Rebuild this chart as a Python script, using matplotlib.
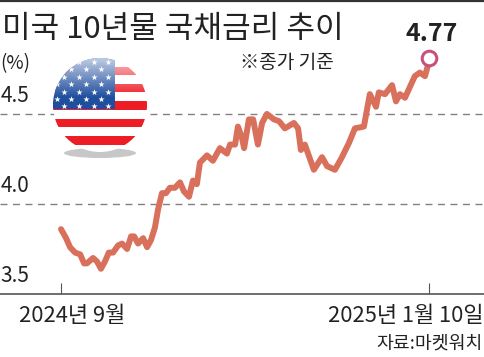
import numpy as np
import matplotlib
matplotlib.use("Agg")
import matplotlib.pyplot as plt
from matplotlib.patches import Ellipse, Rectangle, Circle

plt.rcParams['font.family'] = ['Noto Sans CJK KR', 'DejaVu Sans']

days = [0, 1.8, 3.2, 5, 6.8, 8.2, 9.2, 11.4, 12.8, 14.2, 15.6, 17, 18.5, 20.3, 21.7, 23.5, 24.9, 26, 27.4,
        29.2, 30.6, 32, 33.4, 34.5, 35.9, 37.3, 38.7, 40.5, 42.3, 43.7, 45.5, 46.9, 48.3, 49.4, 51.9, 54,
        56.5, 59, 60.1, 61.9, 62.9, 64.3, 65.1, 66.8, 68.3, 70, 71.5, 73.2, 75.7, 77.5, 79.6, 82.8, 84.3,
        85.3, 86.7, 89.9, 92.8, 94.6, 97.4, 99.9, 102.4, 104.5, 107.7, 109.8, 112, 113, 115.2, 117.7,
        119.1, 120.5, 122.3, 125.8, 127.6, 129.4, 131]
yields = [3.86, 3.81, 3.76, 3.73, 3.72, 3.67, 3.67, 3.70, 3.68, 3.64, 3.68, 3.73, 3.73, 3.77, 3.78, 3.75,
          3.82, 3.82, 3.78, 3.81, 3.76, 3.80, 3.87, 3.97, 4.06, 4.06, 4.09, 4.09, 4.12, 4.07, 4.04, 4.13,
          4.11, 4.23, 4.27, 4.24, 4.31, 4.28, 4.33, 4.33, 4.43, 4.37, 4.31, 4.47, 4.47, 4.33, 4.45, 4.50,
          4.47, 4.46, 4.42, 4.45, 4.42, 4.30, 4.33, 4.19, 4.26, 4.21, 4.19, 4.26, 4.34, 4.42, 4.43, 4.61,
          4.54, 4.62, 4.61, 4.66, 4.57, 4.61, 4.59, 4.71, 4.73, 4.71, 4.80]
y_ticks = [3.5, 4.0, 4.5]
y_labels = ['3.5', '4.0', '4.5']
grid_levels = [4.0, 4.5]
x_ticks = [0, 131]
x_labels = ['2024년 9월', '2025년 1월 10일']
title = '미국 10년물 국채금리 추이'
note = '※종가 기준'
unit = '(%)'
source = '자료:마켓워치'
last_label = '4.77'

W, H = 484, 357
fig = plt.figure(figsize=(W / 100, H / 100), dpi=100, facecolor='white')
ax = fig.add_axes([0, 0, 1, 1])
ax.set_xlim(-21.7, 150.4)
ax.set_ylim(3.15, 5.133)
ax.set_facecolor('white')
for s in ['top', 'left', 'right']:
    ax.spines[s].set_visible(False)
ax.spines['bottom'].set_position(('data', 3.5))
ax.spines['bottom'].set_color('#555555')
ax.spines['bottom'].set_linewidth(1.2)
ax.set_xticks(x_ticks)
ax.set_xticklabels([])
ax.set_yticks([])
ax.tick_params(axis='x', direction='in', length=8, width=0.8, color='#555555')

ax.hlines(grid_levels, -21.7, 150.4, colors='#808080', linestyles=(0, (5, 4)), linewidth=1.0, zorder=1)
ax.plot(days, yields, color='#D8705C', lw=4.3, solid_joinstyle='round', solid_capstyle='round', zorder=3)
ax.plot(days[-1], yields[-1] + 0.012, 'o', ms=10.5, mfc='white', mec='#C8507C', mew=2.2, zorder=4)

txt = '#222222'
for v, l in zip(y_ticks, y_labels):
    ax.text(-21.5, v + 0.10, l, fontsize=15, color=txt, va='center', ha='left')
ax.text(-21.5, 4.78, unit, fontsize=13.5, color=txt, va='center', ha='left')
ax.text(72.5 / 484, 1 - 316 / 357, x_labels[0], transform=ax.transAxes, fontsize=15.8, color=txt, ha='center', va='center')
ax.text(483 / 484, 1 - 316 / 357, x_labels[1], transform=ax.transAxes, fontsize=15.8, color=txt, ha='right', va='center')
ax.text(483 / 484, 1 - 344 / 357, source, transform=ax.transAxes, fontsize=13.2, color=txt, ha='right', va='center')
ax.text(2 / 484, 1 - 29 / 357, title, transform=ax.transAxes, fontsize=22.4, color=txt, ha='left', va='center', fontweight='medium')
ax.text(240 / 484, 1 - 63 / 357, note, transform=ax.transAxes, fontsize=13.8, color=txt, ha='left', va='center')
ax.text(432 / 484, 1 - 34 / 357, last_label, transform=ax.transAxes, fontsize=18, color=txt, ha='center', va='center', fontweight='bold')

fig.add_artist(plt.Line2D([0, 1], [0.998, 0.998], color='#333333', lw=1.6))

# flag badge, drawn in pixel coordinates
fl = fig.add_axes([0, 0, 1, 1], facecolor='none')
fl.set_xlim(0, W)
fl.set_ylim(H, 0)
fl.axis('off')
cx, cy, r = 100, 105, 47
disc = Circle((cx, cy), r, transform=fl.transData)
fl.add_patch(Ellipse((100, 153), 72, 10, color='#9a9a9a', alpha=0.55, lw=0, zorder=0))
fl.add_patch(Ellipse((cx, cy), 2 * r, 2 * r, color='white', lw=0, zorder=1))
for top in [66.5, 83.5, 101, 118.5, 136]:
    p = fl.add_patch(Rectangle((50, top), 100, 8.7, color='#EE1C25', lw=0, zorder=2))
    p.set_clip_path(disc)
p = fl.add_patch(Rectangle((50, 55), 65, 54, color='#1F4E9E', lw=0, zorder=3))
p.set_clip_path(disc)
for j, y in enumerate(np.arange(62, 108, 7.4)):
    xs = np.arange(64 + (j % 2) * 7.4 - 14.8, 115, 14.8)
    pts = fl.scatter(xs, np.full_like(xs, y), marker='*', s=22, color='white', lw=0, zorder=4)
    pts.set_clip_path(disc)
grad = np.zeros((100, 2, 4))
grad[..., :3] = 1
grad[..., 3] = np.linspace(0.72, 0.0, 100)[:, None]
im = fl.imshow(grad, extent=(50, 150, 98, 58), aspect='auto', zorder=5, interpolation='bilinear')
im.set_clip_path(disc)
fl.set_xlim(0, W)
fl.set_ylim(H, 0)

fig.savefig('out.png', dpi=100)
